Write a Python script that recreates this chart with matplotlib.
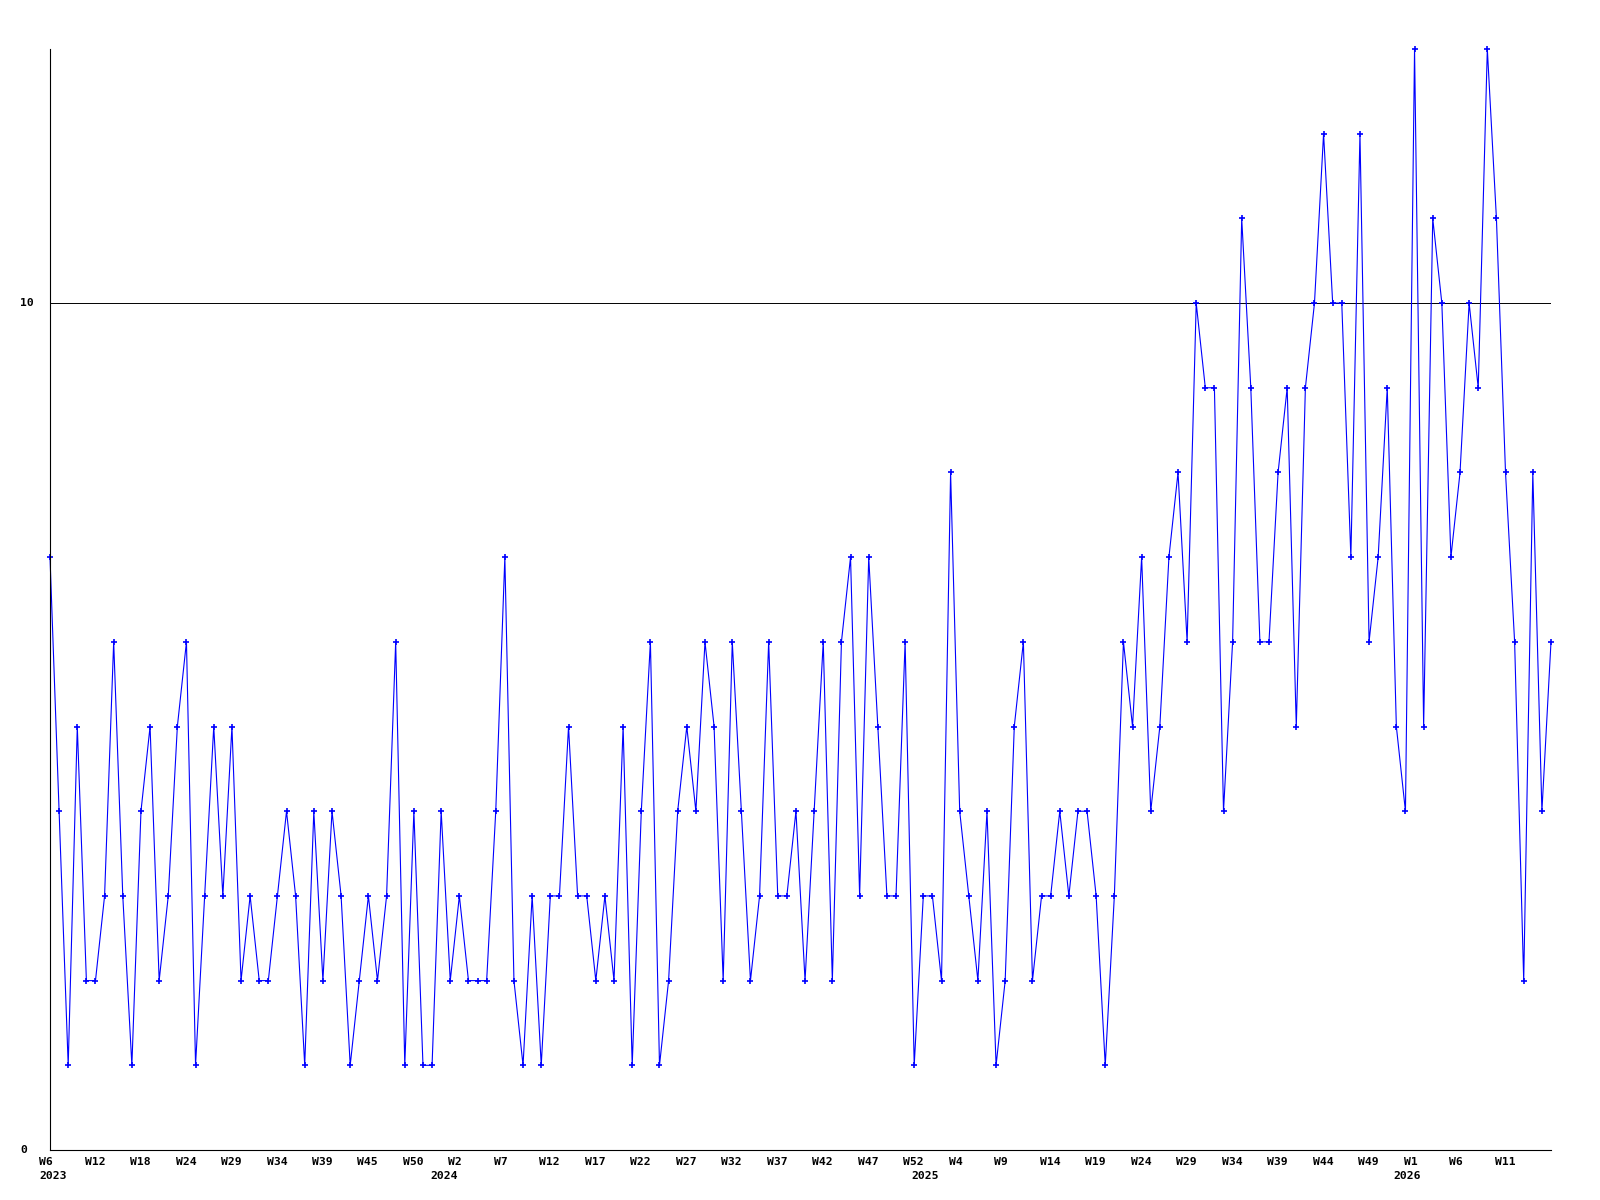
import numpy as np
import matplotlib

matplotlib.use('Agg')
import matplotlib.pyplot as plt
from matplotlib.transforms import blended_transform_factory

# weekly counts, first point = 2023 W6
counts = [7, 4, 1, 5, 2, 2, 3, 6, 3, 1, 4, 5, 2, 3, 5, 6, 1, 3, 5, 3,
          5, 2, 3, 2, 2, 3, 4, 3, 1, 4, 2, 4, 3, 1, 2, 3, 2, 3, 6, 1,
          4, 1, 1, 4, 2, 3, 2, 2, 2, 4, 7, 2, 1, 3, 1, 3, 3, 5, 3, 3,
          2, 3, 2, 5, 1, 4, 6, 1, 2, 4, 5, 4, 6, 5, 2, 6, 4, 2, 3, 6,
          3, 3, 4, 2, 4, 6, 2, 6, 7, 3, 7, 5, 3, 3, 6, 1, 3, 3, 2, 8,
          4, 3, 2, 4, 1, 2, 5, 6, 2, 3, 3, 4, 3, 4, 4, 3, 1, 3, 6, 5,
          7, 4, 5, 7, 8, 6, 10, 9, 9, 4, 6, 11, 9, 6, 6, 8, 9, 5, 9, 10,
          12, 10, 10, 7, 12, 6, 7, 9, 5, 4, 13, 5, 11, 10, 7, 8, 10, 9, 13, 11,
          8, 6, 2, 8, 4, 6]

week_labels = ['W6', 'W12', 'W18', 'W24', 'W29', 'W34', 'W39', 'W45', 'W50',
               'W2', 'W7', 'W12', 'W17', 'W22', 'W27', 'W32', 'W37', 'W42',
               'W47', 'W52', 'W4', 'W9', 'W14', 'W19', 'W24', 'W29', 'W34',
               'W39', 'W44', 'W49', 'W1', 'W6', 'W11']
years = ['2023', '2024', '2025', '2026']
year_pos = [0.3, 43.3, 96.2, 149.2]

y_labels = [0, 10]

x = np.arange(len(counts))
# labels start a little left of their point, one every 5 weeks
tick_pos = np.arange(len(week_labels)) * 5 - 1.2

font = dict(family='DejaVu Sans Mono', weight='bold', size=8.2)

fig = plt.figure(figsize=(16, 12), dpi=100)
ax = fig.add_axes([50 / 1600, 1 - 1150 / 1200, 1501 / 1600, 1101 / 1200])

ax.plot(x, counts, color='#0000ff', lw=0.8, marker='+', ms=4.5, mew=1.2,
        clip_on=False)
ax.axhline(10, color='black', lw=0.7, zorder=0)

ax.set_xlim(0, len(counts) - 1)
ax.set_ylim(0, 13)

for s in ['top', 'right']:
    ax.spines[s].set_visible(False)
for s in ['left', 'bottom']:
    ax.spines[s].set_linewidth(0.8)

ax.set_xticks([])
ax.set_yticks([])

trans = blended_transform_factory(fig.transFigure, ax.transData)
for v in y_labels:
    fig.text(20 / 1600, v, str(v), transform=trans, ha='left', va='center', **font)

# week labels under the axis, year labels below them
for lab, p in zip(week_labels, tick_pos):
    ax.annotate(lab, xy=(p, 0), xycoords=('data', 'axes fraction'),
                xytext=(0, -8.3), textcoords='offset points',
                ha='left', va='center', annotation_clip=False, **font)

for yr, p in zip(years, year_pos):
    ax.annotate(yr, xy=(p, 0), xycoords=('data', 'axes fraction'),
                xytext=(0, -19), textcoords='offset points',
                ha='center', va='center', annotation_clip=False, **font)

fig.savefig('out.png', dpi=100, facecolor='white')
